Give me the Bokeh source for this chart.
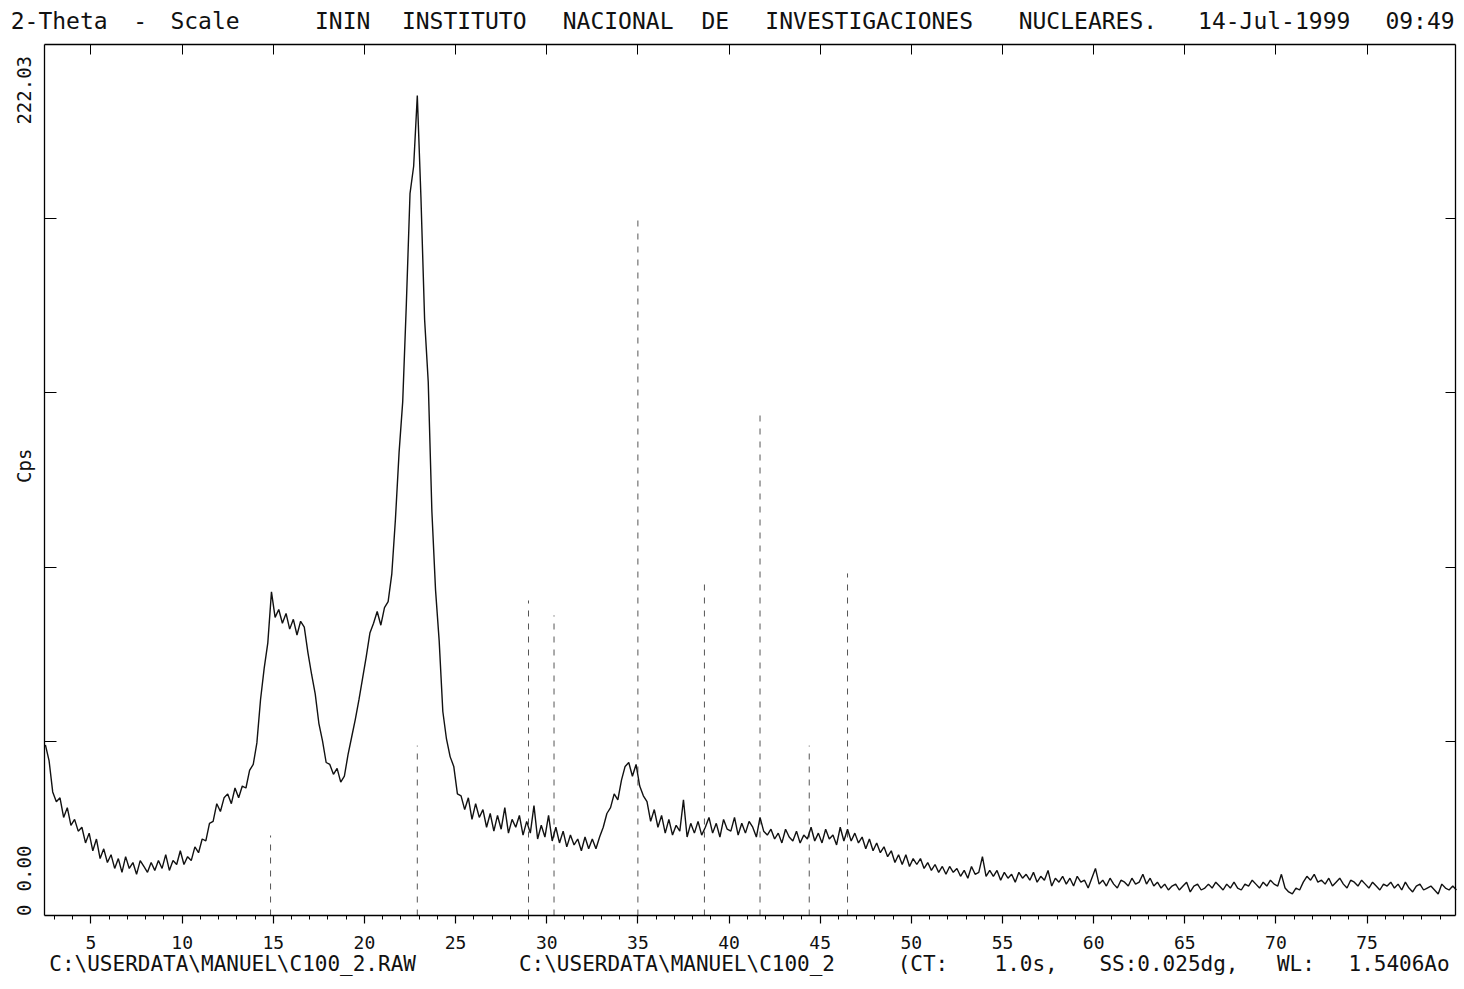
import math
from bokeh.plotting import figure
from bokeh.models import (Range1d, LinearAxis, FixedTicker, SingleIntervalTicker,
                          CustomJSTickFormatter)
from bokeh.core.properties import value
from bokeh.embed import file_html
from bokeh.resources import INLINE

start_2theta = 2.5
step_2theta = 0.2
cps = [
    43.5, 39.5, 31.5, 29.0, 30.0, 25.0, 27.5, 23.0, 24.5, 21.5,
    22.5, 18.5, 21.0, 16.5, 19.5, 14.5, 17.0, 13.5, 15.5, 12.0,
    14.5, 11.0, 15.0, 12.0, 13.5, 10.5, 14.0, 12.5, 11.0, 13.5,
    11.5, 14.0, 12.0, 15.5, 11.5, 14.0, 13.0, 16.5, 13.0, 15.0,
    14.0, 17.5, 16.0, 19.5, 19.0, 23.5, 24.0, 28.5, 26.5, 30.0,
    31.0, 28.5, 32.5, 30.0, 33.0, 32.5, 37.0, 38.5, 44.0, 55.0,
    63.0, 69.5, 82.5, 76.0, 78.0, 74.5, 77.0, 73.0, 75.5, 71.5,
    75.0, 73.5, 67.0, 61.5, 56.5, 49.0, 44.5, 39.0, 38.5, 36.0,
    37.5, 34.0, 35.5, 41.0, 45.5, 50.0, 55.0, 60.5, 66.0, 72.0,
    74.5, 77.5, 74.0, 78.5, 80.0, 87.0, 101.0, 118.0, 131.0, 156.0,
    184.0, 191.0, 209.0, 183.0, 152.0, 136.0, 103.0, 83.0, 70.0, 52.0,
    45.0, 40.5, 38.0, 31.0, 30.5, 27.0, 30.0, 24.5, 28.5, 25.0,
    27.0, 22.5, 26.0, 21.5, 25.5, 22.0, 27.5, 21.0, 24.5, 22.5,
    25.5, 20.5, 24.0, 21.0, 28.0, 19.5, 23.0, 20.0, 25.5, 19.0,
    22.5, 18.5, 21.5, 17.5, 20.5, 18.0, 19.5, 16.5, 20.0, 17.0,
    19.5, 17.0, 20.0, 22.5, 26.0, 27.5, 31.0, 29.5, 34.5, 38.0,
    39.0, 35.5, 38.5, 33.0, 30.5, 29.0, 24.0, 27.0, 22.5, 25.5,
    21.0, 24.5, 20.5, 23.0, 21.5, 29.5, 20.0, 23.5, 21.0, 24.0,
    20.5, 22.5, 25.0, 21.0, 23.5, 20.0, 24.5, 22.0, 21.5, 25.0,
    20.5, 23.5, 21.0, 24.0, 22.5, 20.0, 25.0, 21.5, 20.5, 22.0,
    19.5, 21.0, 18.5, 22.0, 20.0, 19.0, 21.5, 18.5, 20.5, 19.5,
    22.5, 19.0, 21.0, 18.5, 22.0, 19.5, 20.5, 18.0, 22.5, 19.0,
    22.0, 19.0, 21.0, 18.5, 20.0, 17.0, 19.5, 16.5, 18.5, 16.0,
    17.5, 15.0, 16.5, 13.5, 15.5, 13.0, 15.5, 12.5, 14.5, 13.0,
    14.5, 12.0, 13.5, 11.5, 13.0, 11.0, 12.5, 10.5, 12.5, 11.0,
    12.0, 10.0, 11.5, 9.5, 12.5, 10.5, 11.0, 15.0, 10.0, 11.5,
    10.0, 11.5, 9.0, 11.0, 9.5, 10.5, 8.5, 11.0, 9.5, 10.5,
    9.0, 11.0, 8.5, 10.0, 9.0, 11.5, 7.5, 9.5, 8.5, 10.0,
    8.0, 9.5, 7.5, 10.0, 8.5, 9.0, 7.0, 9.5, 12.0, 8.0,
    9.0, 7.5, 9.5, 8.0, 7.0, 9.0, 8.5, 7.5, 9.5, 8.0,
    8.5, 10.5, 8.0, 9.5, 7.5, 8.5, 7.0, 8.0, 6.5, 7.5,
    8.0, 6.5, 7.5, 8.5, 6.0, 7.5, 8.0, 6.5, 7.0, 8.0,
    7.0, 8.5, 7.5, 6.5, 8.0, 7.0, 8.5, 7.0, 6.5, 8.0,
    7.5, 9.0, 8.0, 7.0, 8.5, 7.5, 9.0, 8.0, 7.5, 10.5,
    7.0, 6.0, 5.5, 7.0, 6.5, 8.5, 10.0, 9.0, 10.5, 8.5,
    9.0, 8.0, 9.5, 7.5, 8.5, 9.5, 8.0, 7.0, 9.0, 8.5,
    7.5, 9.0, 8.0, 7.0, 8.5, 7.5, 6.5, 8.0, 7.5, 8.5,
    7.0, 8.0, 6.5, 8.5, 7.0, 6.0, 7.5, 8.0, 6.5, 7.0,
    7.5, 6.5, 5.5, 8.0, 7.0, 6.5, 7.5, 6.5,
]
two_theta = [round(start_2theta + step_2theta * i, 2) for i in range(len(cps))]

# reference (stick) lines: position (2-theta) and height (cps)
stick_pos = [14.85, 22.9, 29.0, 30.4, 35.0, 38.65, 41.7, 44.4, 46.5]
stick_cps = [20.4, 43.3, 80.3, 76.5, 177.2, 84.6, 129.2, 43.3, 87.2]

x_tick_interval = 5
y_max = 222.03
y_tick_vals = [y_max * k / 5 for k in (1, 2, 3, 4)]
# y-side texts and where they sit (cps)
y_text_pos = [2.8, 17.8, 119.0, 219.1]
y_text = ["0", "0.00", "Cps", "222.03"]

header_left = "2-Theta - Scale"
header_right = "ININ INSTITUTO NACIONAL DE INVESTIGACIONES NUCLEARES. 14-Jul-1999 09:49"
footer = r"C:\USERDATA\MANUEL\C100_2.RAW C:\USERDATA\MANUEL\C100_2 (CT:  1.0s, SS:0.025dg, WL: 1.5406Ao"

# ---------------- geometry (pixels of the page) ----------------
X0, X1 = 2.45, 79.85          # 2-theta span of the axis box
W, H = 1464, 985
BOX_L, BOX_R, BOX_T, BOX_B = 44, 1455, 44, 915
PPX = (BOX_R - BOX_L) / (X1 - X0)
PPY = (BOX_B - BOX_T) / y_max
XLO = X0 - BOX_L / PPX
XHI = X1 + (W - BOX_R) / PPX
YLO = -(H - BOX_B) / PPY
YHI = y_max + BOX_T / PPY
MONO = "DejaVu Sans Mono"
INK = "#111111"


def xd(px):
    return XLO + px / PPX


def yd(py):
    return YLO + (H - py) / PPY


p = figure(width=W, height=H, output_backend="svg", toolbar_location=None,
           title=None, x_range=Range1d(XLO, XHI), y_range=Range1d(YLO, YHI),
           x_axis_location=None, y_axis_location=None,
           min_border=0, min_border_left=0, min_border_right=0,
           min_border_top=0, min_border_bottom=0)
p.grid.visible = False
p.background_fill_color = "white"
p.border_fill_color = "white"
p.outline_line_color = None

blank = CustomJSTickFormatter(code="return '';")
ytext_fmt = CustomJSTickFormatter(
    args=dict(pos=y_text_pos, txt=y_text),
    code="""
let best = 0;
for (let i = 0; i < pos.length; i++) {
  if (Math.abs(pos[i] - tick) < Math.abs(pos[best] - tick)) best = i;
}
return txt[best];
""")

xb = LinearAxis(ticker=SingleIntervalTicker(interval=x_tick_interval, num_minor_ticks=5),
                fixed_location=0, bounds=(X0, X1))
xb.major_tick_in = 0
xb.major_tick_out = 8
xb.minor_tick_in = 0
xb.minor_tick_out = 4
xb.axis_line_width = 1.3
xb.major_tick_line_width = 1.2
xb.minor_tick_line_width = 1
xb.major_label_text_font = MONO
xb.major_label_text_font_size = "18px"
xb.major_label_text_color = INK
xb.major_label_standoff = 12
p.add_layout(xb, "below")

xt = LinearAxis(ticker=SingleIntervalTicker(interval=x_tick_interval, num_minor_ticks=0),
                formatter=blank, fixed_location=y_max, bounds=(X0, X1))
xt.major_tick_in = 10
xt.major_tick_out = 0
xt.minor_tick_line_color = None
xt.major_label_standoff = 0
xt.axis_line_width = 1.3
p.add_layout(xt, "above")

yl = LinearAxis(ticker=FixedTicker(ticks=y_text_pos, minor_ticks=y_tick_vals),
                formatter=ytext_fmt, fixed_location=X0, bounds=(0, y_max))
yl.major_tick_in = 0
yl.major_tick_out = 0
yl.minor_tick_in = 12
yl.minor_tick_out = 0
yl.minor_tick_line_width = 1.2
yl.axis_line_width = 1.3
yl.major_label_orientation = math.pi / 2
yl.major_label_standoff = 20
yl.major_label_text_font = MONO
yl.major_label_text_font_size = "19px"
yl.major_label_text_color = INK
p.add_layout(yl, "left")

yr = LinearAxis(ticker=FixedTicker(ticks=y_tick_vals, minor_ticks=[]), formatter=blank,
                fixed_location=X1, bounds=(0, y_max))
yr.major_tick_in = 10
yr.major_tick_out = 0
yr.minor_tick_line_color = None
yr.major_label_standoff = 0
yr.axis_line_width = 1.3
p.add_layout(yr, "right")

# stick pattern
p.segment(x0=stick_pos, y0=[0] * len(stick_pos), x1=stick_pos, y1=stick_cps,
          line_color="#555555", line_width=1, line_dash="6 7")

# measured pattern
p.line(two_theta, cps, line_color=INK, line_width=1.4)


def word_centers(text, x0, pitch):
    xs, words = [], []
    i, n = 0, len(text)
    while i < n:
        if text[i] == " ":
            i += 1
            continue
        j = i
        while j < n and text[j] != " ":
            j += 1
        words.append(text[i:j])
        xs.append(x0 + (i + (j - i) / 2.0) * pitch)
        i = j
    return xs, words


hx, hw = word_centers(header_left + "    " + header_right, 2, 16.2)
p.text(x=[xd(v) for v in hx], y=[yd(20)] * len(hw), text=hw, text_font=value(MONO),
       text_font_size=value("23px"), text_color=INK,
       text_align="center", text_baseline="alphabetic")

fx, fw = word_centers(footer, 2, 15.87)
p.text(x=[xd(v) for v in fx], y=[yd(963)] * len(fw), text=fw, text_font=value(MONO),
       text_font_size=value("21px"), text_color=INK,
       text_align="center", text_baseline="alphabetic")

open("out.html", "w").write(file_html(p, INLINE))
